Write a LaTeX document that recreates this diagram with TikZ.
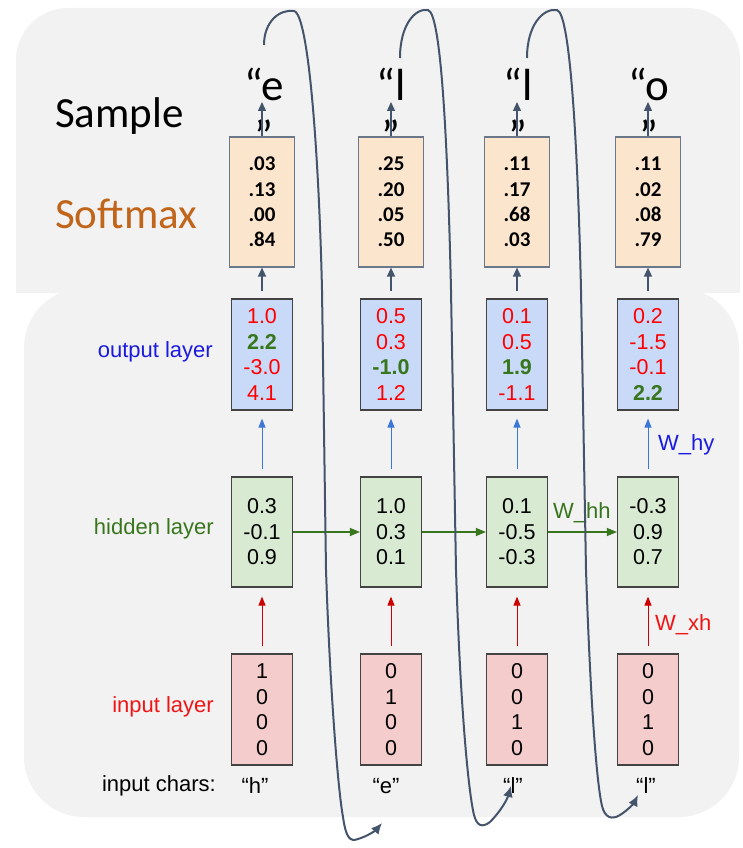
\documentclass[tikz,border=0pt]{standalone}
\usepackage{fontspec}
\setmainfont{Liberation Sans}
\newfontfamily\calfont{Carlito}
\usepackage{xcolor}
\usepackage{tikz}
\usetikzlibrary{arrows.meta}
\definecolor{panelgray}{HTML}{F2F2F2}
\definecolor{slate}{HTML}{44546A}
\definecolor{smline}{HTML}{6A7889}
\definecolor{boxline}{HTML}{434343}
\definecolor{peach}{HTML}{FCE5CD}
\definecolor{ltblue}{HTML}{C9DAF8}
\definecolor{ltgreen}{HTML}{D9EAD3}
\definecolor{ltred}{HTML}{F4CCCC}
\definecolor{hidgreen}{HTML}{38761D}
\definecolor{outblue}{HTML}{1A1AE0}
\definecolor{inred}{HTML}{F01515}
\definecolor{numred}{HTML}{FF0000}
\definecolor{arrblue}{HTML}{3C78D8}
\definecolor{arrred}{HTML}{CC0000}
\definecolor{smorange}{HTML}{C0651A}
\newcommand{\rednum}[1]{\textcolor{numred}{#1}}
\newcommand{\grnnum}[1]{\textcolor{hidgreen}{\bfseries #1}}
\newcommand{\lowq}{\smash{\raisebox{-21pt}{”}}}
\tikzset{
  smbox/.style  = {rectangle, draw=smline, fill=peach, line width=1.2pt,
                   minimum width=65pt, minimum height=130pt, inner sep=0pt, align=center,
                   font=\calfont\bfseries\fontsize{21}{25.3}\selectfont},
  outbox/.style = {rectangle, draw=boxline, fill=ltblue, line width=1.2pt,
                   minimum width=61pt, minimum height=111pt, inner sep=0pt, align=center,
                   font=\fontsize{21.5}{25.7}\selectfont},
  hidbox/.style = {rectangle, draw=boxline, fill=ltgreen, line width=1.2pt,
                   minimum width=61pt, minimum height=110pt, inner sep=0pt, align=center,
                   font=\fontsize{21.5}{25.5}\selectfont},
  inbox/.style  = {rectangle, draw=boxline, fill=ltred, line width=1.2pt,
                   minimum width=61pt, minimum height=111pt, inner sep=0pt, align=center,
                   font=\fontsize{21.5}{25.5}\selectfont},
  smpl/.style   = {inner sep=0pt, align=center, text depth=0pt,
                   font=\calfont\fontsize{45}{30}\selectfont},
  lbl/.style    = {inner sep=0pt, font=\fontsize{22}{26}\selectfont},
  sarrow/.style = {draw=slate, line width=1.3pt, -{Triangle[length=9pt, width=8pt]}},
  yarrow/.style = {draw=arrblue, line width=1pt, -{Triangle[length=9pt, width=7pt]}},
  xarrow/.style = {draw=arrred, line width=1pt, -{Triangle[length=9pt, width=7pt]}},
  harrow/.style = {draw=hidgreen, line width=1.2pt, -{Triangle[length=10pt, width=8pt]}},
  loopline/.style = {draw=slate, line width=2pt, -{Latex[length=11pt, width=10pt]}},
}

\begin{document}
\begin{tikzpicture}[x=1pt, y=-1pt]
    \useasboundingbox (0,0) rectangle (742,848);

    %% Background panels
    \begin{scope}
      \clip (0,0) rectangle (742,292);
      \fill[panelgray, rounded corners=52pt] (16,8) rectangle (740,380);
    \end{scope}
    \fill[panelgray, rounded corners=60pt] (24,288) rectangle (739,817);

    %% Row titles
    \node[lbl, anchor=base west, font=\calfont\fontsize{43}{50}\selectfont] (lblsample) at (55,128) {Sample};
    \node[lbl, anchor=base west, text=smorange, font=\calfont\fontsize{43}{50}\selectfont] (lblsoftmax) at (55,228) {Softmax};
    \node[lbl, anchor=east, text=outblue]  (lblout)   at (213,352) {output layer};
    \node[lbl, anchor=east, text=hidgreen] (lblhid)   at (214,529) {hidden layer};
    \node[lbl, anchor=east, text=inred]    (lblin)    at (214,707) {input layer};
    \node[lbl, anchor=east]                (lblchars) at (216,786) {input chars:};

    %% Softmax boxes
    \node[smbox] (sm1) at (262,202) {.03\\.13\\.00\\.84};
    \node[smbox] (sm2) at (391,202) {.25\\.20\\.05\\.50};
    \node[smbox] (sm3) at (517,202) {.11\\.17\\.68\\.03};
    \node[smbox] (sm4) at (648,202) {.11\\.02\\.08\\.79};

    %% Output layer
    \node[outbox] (out1) at (262,354.5) {\rednum{1.0}\\\grnnum{2.2}\\\rednum{-3.0}\\\rednum{4.1}};
    \node[outbox] (out2) at (391,354.5) {\rednum{0.5}\\\rednum{0.3}\\\grnnum{-1.0}\\\rednum{1.2}};
    \node[outbox] (out3) at (517,354.5) {\rednum{0.1}\\\rednum{0.5}\\\grnnum{1.9}\\\rednum{-1.1}};
    \node[outbox] (out4) at (648,354.5) {\rednum{0.2}\\\rednum{-1.5}\\\rednum{-0.1}\\\grnnum{2.2}};

    %% Hidden layer
    \node[hidbox] (hid1) at (262,532) {0.3\\-0.1\\0.9};
    \node[hidbox] (hid2) at (391,532) {1.0\\0.3\\0.1};
    \node[hidbox] (hid3) at (517,532) {0.1\\-0.5\\-0.3};
    \node[hidbox] (hid4) at (648,532) {-0.3\\0.9\\0.7};

    %% Input layer
    \node[inbox] (in1) at (262,709.5) {1\\0\\0\\0};
    \node[inbox] (in2) at (391,709.5) {0\\1\\0\\0};
    \node[inbox] (in3) at (517,709.5) {0\\0\\1\\0};
    \node[inbox] (in4) at (648,709.5) {0\\0\\1\\0};

    %% Input chars
    \node[lbl] (ch1) at (255,786) {“h”};
    \node[lbl] (ch2) at (386,786) {“e”};
    \node[lbl] (ch3) at (513,786) {“l”};
    \node[lbl] (ch4) at (646,786) {“l”};

    %% Sampled chars
    \node[smpl, anchor=north] (smp1) at (264,68) {“e\\\lowq};
    \node[smpl, anchor=north] (smp2) at (391,68) {“l\\\lowq};
    \node[smpl, anchor=north] (smp3) at (518,68) {“l\\\lowq};
    \node[smpl, anchor=north] (smp4) at (649,68) {“o\\\lowq};
    \coordinate (tip1) at (262,102);
    \coordinate (tip2) at (391,102);
    \coordinate (tip3) at (517,102);
    \coordinate (tip4) at (648,102);

    %% Weight labels
    \node[lbl, anchor=west, text=hidgreen] (whh) at (553,513) {W\_hh};
    \node[lbl, anchor=west, text=outblue]  (why) at (658,445) {W\_hy};
    \node[lbl, anchor=west, text=inred]    (wxh) at (655,625) {W\_xh};

    %% Arrows
    \draw[sarrow] (sm1) -- (tip1);
    \draw[sarrow] (sm2) -- (tip2);
    \draw[sarrow] (sm3) -- (tip3);
    \draw[sarrow] (sm4) -- (tip4);
    \draw[sarrow, shorten <=7pt] (out1) -- (sm1);
    \draw[sarrow, shorten <=7pt] (out2) -- (sm2);
    \draw[sarrow, shorten <=7pt] (out3) -- (sm3);
    \draw[sarrow, shorten <=7pt] (out4) -- (sm4);
    \draw[yarrow, shorten <=7pt, shorten >=8pt] (hid1) -- (out1);
    \draw[yarrow, shorten <=7pt, shorten >=8pt] (hid2) -- (out2);
    \draw[yarrow, shorten <=7pt, shorten >=8pt] (hid3) -- (out3);
    \draw[yarrow, shorten <=7pt, shorten >=8pt] (hid4) -- (out4);
    \draw[xarrow, shorten <=7pt, shorten >=9pt] (in1) -- (hid1);
    \draw[xarrow, shorten <=7pt, shorten >=9pt] (in2) -- (hid2);
    \draw[xarrow, shorten <=7pt, shorten >=9pt] (in3) -- (hid3);
    \draw[xarrow, shorten <=7pt, shorten >=9pt] (in4) -- (hid4);
    \draw[harrow] (hid1) -- (hid2);
    \draw[harrow] (hid2) -- (hid3);
    \draw[harrow] (hid3) -- (hid4);

    %% Feedback loops: sample -> next input
    \coordinate (lp1a) at (264,45);  \coordinate (lp1b) at (382,823);
    \coordinate (lp2a) at (400,58);  \coordinate (lp2b) at (511,786);
    \coordinate (lp3a) at (527,58);  \coordinate (lp3b) at (638,795);
    \draw[loopline] (lp1a) .. controls (264,22) and (279,9) .. (294,11)
        .. controls (309,14) and (319,160) .. (322,290) -- (326,570)
        .. controls (330,690) and (338,790) .. (343,817)
        .. controls (346,838) and (350,842) .. (358,839)
        .. controls (368,836) and (376,830) .. (lp1b);
    \draw[loopline] (lp2a) .. controls (400,25) and (415,8) .. (428,10)
        .. controls (442,13) and (448,160) .. (451,290) -- (456,570)
        .. controls (460,700) and (468,790) .. (474,815)
        .. controls (477,826) and (482,828) .. (490,822)
        .. controls (500,812) and (507,800) .. (lp2b);
    \draw[loopline] (lp3a) .. controls (527,25) and (543,8) .. (557,10)
        .. controls (571,13) and (578,160) .. (581,290) -- (586,570)
        .. controls (590,690) and (596,780) .. (602,806)
        .. controls (605,818) and (612,820) .. (620,815)
        .. controls (628,810) and (634,803) .. (lp3b);

\end{tikzpicture}
\end{document}
